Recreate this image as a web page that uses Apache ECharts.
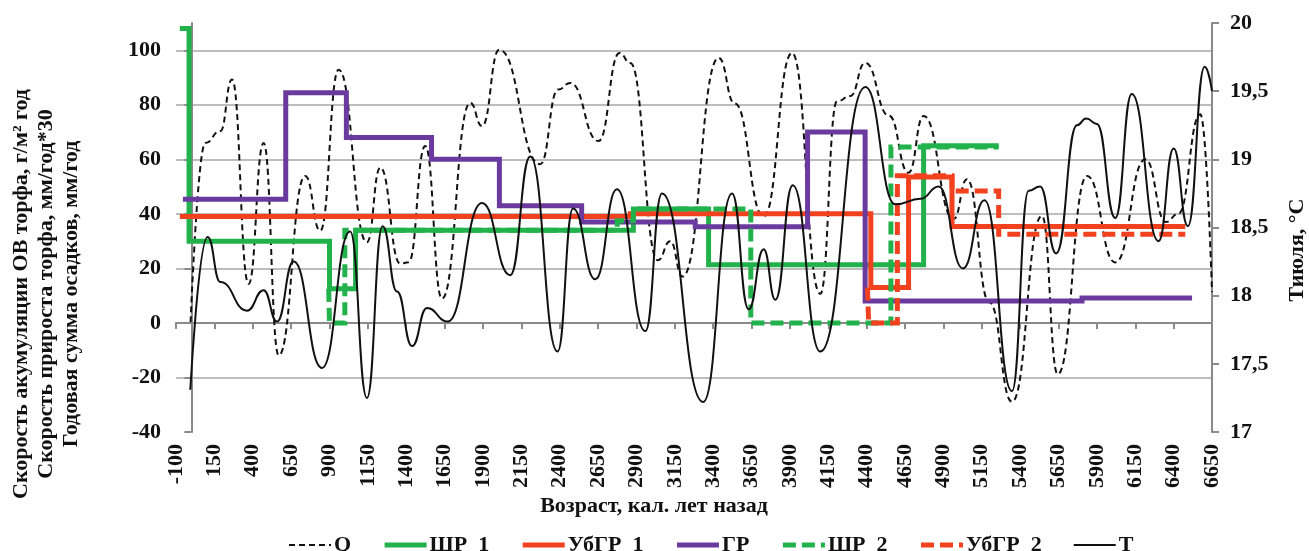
<!DOCTYPE html>
<html>
<head>
<meta charset="utf-8">
<script src="https://cdn.jsdelivr.net/npm/echarts@6/dist/echarts.min.js"></script>
<style>
html,body{margin:0;padding:0;background:#fff;}
#c{width:1309px;height:551px;background:#fff;}
</style>
</head>
<body>
<div id="c"></div>
<script>
// ---- X axis ----
const xMin = -100, xMax = 6650, xStep = 250;
// ---- Left axis ----
const yLeftMin = -40, yLeftMax = 110, yLeftStep = 20;
// ---- Right axis (T July) ----
const yRightMin = 17, yRightMax = 20, yRightStep = 0.5;

// Q (dashed black) — left axis
const qAge = [-5, 91, 189, 265, 373, 471, 569, 742, 840, 960, 1144, 1231, 1361, 1416, 1524, 1633, 1817, 1894, 2006, 2273, 2390, 2469, 2653, 2790, 2860, 3040, 3120, 3200, 3436, 3540, 3729, 3914, 4098, 4207, 4293, 4391, 4545, 4673, 4771, 4967, 5054, 5200, 5347, 5542, 5645, 5836, 6020, 6216, 6350, 6430, 6574, 6650];
const qVal = [0.3, 66, 70.4, 89.3, 14.3, 66, -11.9, 53.9, 33.8, 92.9, 29.6, 57, 21.7, 22.3, 64.9, 8.9, 80.7, 72.2, 100.2, 58.2, 85.6, 88, 66.7, 99, 95.3, 23, 30, 17, 97.2, 80.5, 39, 99, 10.7, 81.3, 83.2, 95.4, 76, 55.1, 75.9, 38.1, 52.7, 7.5, -28.9, 39.3, -18.8, 53.9, 22.2, 60, 37, 40, 76.5, 11.3];

// T July (solid black) — right axis
const tAge = [-7, 106, 189, 363, 471, 558, 666, 851, 1035, 1144, 1246, 1340, 1438, 1535, 1670, 1894, 2078, 2208, 2386, 2487, 2632, 2773, 2958, 3066, 3335, 3523, 3631, 3729, 3805, 3918, 4098, 4391, 4587, 4750, 4869, 5027, 5168, 5347, 5455, 5530, 5635, 5770, 5830, 5900, 6020, 6127, 6302, 6400, 6493, 6602, 6650];
const tVal = [17.31, 18.43, 18.10, 17.89, 18.04, 17.81, 18.25, 17.47, 18.47, 17.25, 18.51, 18.03, 17.63, 17.91, 17.81, 18.68, 18.15, 19.02, 17.59, 18.64, 18.12, 18.78, 17.74, 18.75, 17.22, 18.75, 17.90, 18.34, 17.97, 18.81, 17.59, 19.53, 18.67, 18.71, 18.80, 18.20, 18.70, 17.30, 18.77, 18.80, 18.31, 19.25, 19.30, 19.26, 18.57, 19.48, 18.40, 19.08, 18.51, 19.68, 19.50];

// Step series: age where each level begins, and the level
const shr1Age = [-75, -15, 900, 1070, 2880, 3370, 4771, 5260];
const shr1Val = [108, 30, 12.5, 34, 41.8, 21.3, 65, 65];

const ubgr1Age = [-75, 2860, 4427, 4673, 4956, 6476];
const ubgr1Val = [39, 40, 13, 53.5, 35.4, 35.4];

const grAge = [-55, 615, 1010, 1565, 2007, 2543, 3283, 4015, 4390, 5803, 6520];
const grVal = [45.4, 84.4, 68, 60, 43, 37, 35.3, 70, 8, 9.1, 9.1];

const shr2Age = [895, 900, 1000, 2775, 2880, 3645, 4558, 5260];
const shr2Val = [12.5, 0, 34, 37.5, 41.8, 0, 64.5, 64.5];

const ubgr2Age = [4405, 4413, 4600, 4956, 5260, 6476];
const ubgr2Val = [13, 0, 54, 48.4, 32.5, 32.5];

const names = ['Q', 'ШР  1', 'УбГР  1', 'ГР', 'ШР  2', 'УбГР  2', 'Т'];
const legendWidths = [2, 5, 5, 5, 5, 5, 2];

const FONT = '"Liberation Serif", "Times New Roman", serif';
const GREEN = '#22b24c', RED = '#f2411f', PURPLE = '#6b3a9e', BLACK = '#111111';
const GRID = '#bdbdbd', AXIS = '#8a8a8a';

function zip(a, b) { return a.map((v, i) => [v, b[i]]); }

const chart = echarts.init(document.getElementById('c'), null, {renderer: 'canvas'});

function stepSeries(name, age, val, color, dashed) {
  return {
    name: name, type: 'line', step: 'end', symbol: 'none', yAxisIndex: 0,
    data: zip(age, val),
    lineStyle: {color: color, width: 5, type: dashed ? [13, 6] : 'solid', cap: 'butt', join: 'miter'},
    itemStyle: {color: color},
    emphasis: {disabled: true}
  };
}

const option = {
  animation: false,
  grid: {left: 176, right: 97, top: 23, bottom: 119},
  legend: {
    left: 283, top: 529, itemWidth: 42, itemHeight: 14, itemGap: 31,
    itemStyle: {opacity: 0},
    textStyle: {fontFamily: FONT, fontWeight: 'bold', fontSize: 22, lineHeight: 22, color: BLACK, padding: [0, 0, 0, -2]},
    data: names.map((n, i) => ({name: n, lineStyle: {width: legendWidths[i]}}))
  },
  xAxis: {
    type: 'value', min: xMin, max: xMax, interval: xStep,
    axisLine: {show: true, lineStyle: {color: AXIS, width: 2}},
    axisTick: {show: true, length: 6, lineStyle: {color: AXIS, width: 2}},
    splitLine: {show: false},
    axisLabel: {rotate: 90, margin: 12, fontFamily: FONT, fontWeight: 'bold', fontSize: 22, color: BLACK,
      formatter: v => String(v)}
  },
  yAxis: [
    {
      type: 'value', min: yLeftMin, max: yLeftMax, interval: yLeftStep, position: 'left',
      axisLine: {show: true, lineStyle: {color: AXIS, width: 2}},
      axisTick: {show: true, length: 7, lineStyle: {color: AXIS, width: 2}},
      splitLine: {show: true, showMinLine: false, showMaxLine: false, lineStyle: {color: GRID, width: 2, type: 'solid'}},
      axisLabel: {showMaxLabel: false, margin: 15, fontFamily: FONT, fontWeight: 'bold', fontSize: 22, color: BLACK,
        formatter: v => String(v)}
    },
    {
      type: 'value', min: yRightMin, max: yRightMax, interval: yRightStep, position: 'right',
      axisLine: {show: true, lineStyle: {color: AXIS, width: 2}},
      axisTick: {show: true, length: 7, lineStyle: {color: AXIS, width: 2}},
      splitLine: {show: false},
      axisLabel: {margin: 18, fontFamily: FONT, fontWeight: 'bold', fontSize: 22, color: BLACK,
        formatter: v => String(v).replace('.', ',')}
    }
  ],
  graphic: [
    {type: 'text', x: 46, y: 294, rotation: Math.PI / 2,
     style: {text: 'Скорость акумуляции ОВ торфа, г/м² год\nСкорость прироста торфа, мм/год*30\nГодовая сумма осадков, мм/год',
       font: 'bold 22px ' + FONT, fill: BLACK, align: 'center', verticalAlign: 'middle', lineHeight: 25}},
    {type: 'text', x: 654, y: 506,
     style: {text: 'Возраст, кал. лет назад', font: 'bold 22px ' + FONT, fill: BLACK, align: 'center', verticalAlign: 'middle'}},
    {type: 'text', x: 1297, y: 250, rotation: Math.PI / 2,
     style: {text: 'Тиюля, °С', font: 'bold 22px ' + FONT, fill: BLACK, align: 'center', verticalAlign: 'middle'}}
  ],
  series: [
    {
      name: names[0], type: 'line', yAxisIndex: 0, symbol: 'none', smooth: 0.5, smoothMonotone: 'x',
      data: zip(qAge, qVal),
      lineStyle: {color: BLACK, width: 2, type: [6, 4]}, itemStyle: {color: BLACK},
      emphasis: {disabled: true}
    },
    stepSeries(names[1], shr1Age, shr1Val, GREEN, false),
    stepSeries(names[2], ubgr1Age, ubgr1Val, RED, false),
    stepSeries(names[3], grAge, grVal, PURPLE, false),
    stepSeries(names[4], shr2Age, shr2Val, GREEN, true),
    stepSeries(names[5], ubgr2Age, ubgr2Val, RED, true),
    {
      name: names[6], type: 'line', yAxisIndex: 1, symbol: 'none', smooth: 0.5, smoothMonotone: 'x',
      data: zip(tAge, tVal),
      lineStyle: {color: BLACK, width: 2}, itemStyle: {color: BLACK},
      emphasis: {disabled: true}
    }
  ]
};
chart.setOption(option);
</script>
</body>
</html>
